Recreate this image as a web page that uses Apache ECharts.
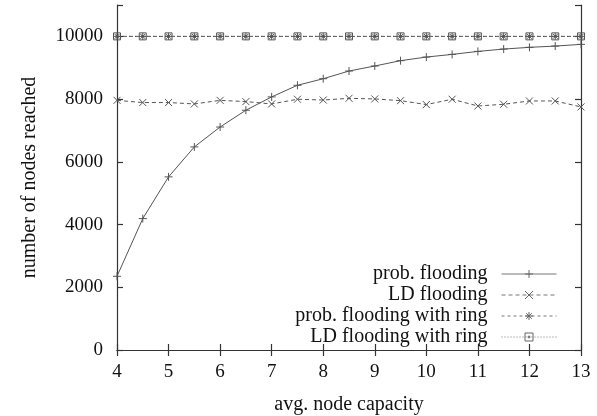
<!DOCTYPE html>
<html>
<head>
<meta charset="utf-8">
<script src="https://cdn.jsdelivr.net/npm/echarts@6/dist/echarts.min.js"></script>
<style>
  html, body { margin: 0; padding: 0; background: #fff; }
  #chart { width: 597px; height: 416px; }
</style>
</head>
<body>
<div id="chart"></div>
<script>
// average node capacity (x values)
const capacity = [4, 4.5, 5, 5.5, 6, 6.5, 7, 7.5, 8, 8.5, 9, 9.5, 10, 10.5, 11, 11.5, 12, 12.5, 13];

// number of nodes reached per strategy
const probFlooding = [2350, 4190, 5520, 6475, 7110, 7645, 8070, 8440, 8650, 8895, 9055, 9225, 9340, 9425, 9520, 9595, 9650, 9690, 9745];
const ldFlooding = [7960, 7890, 7890, 7845, 7960, 7920, 7845, 7995, 7970, 8025, 8005, 7950, 7825, 7995, 7780, 7835, 7940, 7940, 7750];
const probRing = [10000, 10000, 10000, 10000, 10000, 10000, 10000, 10000, 10000, 10000, 10000, 10000, 10000, 10000, 10000, 10000, 10000, 10000, 10000];
const ldRing = [10000, 10000, 10000, 10000, 10000, 10000, 10000, 10000, 10000, 10000, 10000, 10000, 10000, 10000, 10000, 10000, 10000, 10000, 10000];

const seriesNames = ['prob. flooding', 'LD flooding', 'prob. flooding with ring', 'LD flooding with ring'];
const yTicks = [0, 2000, 4000, 6000, 8000, 10000];

const FONT = 'Liberation Serif';
const INK = '#333';
const LINE = '#555';

// gnuplot-style point glyphs drawn as stroked paths
const SYM_PLUS = 'path://M0,5L10,5M5,0L5,10';
const SYM_CROSS = 'path://M0,0L10,10M10,0L0,10';
const SYM_STAR = 'path://M0,5L10,5M5,0L5,10M1.5,1.5L8.5,8.5M8.5,1.5L1.5,8.5';
const SYM_BOX = 'path://M0,0L10,0L10,10L0,10Z M4,4L6,4L6,6L4,6Z';

const pairs = ys => capacity.map((x, i) => [x, ys[i]]);

function makeSeries(name, ys, symbol, size, dash) {
  return {
    name: name,
    type: 'line',
    data: pairs(ys),
    symbol: symbol,
    symbolSize: size,
    showAllSymbol: true,
    lineStyle: { color: LINE, width: 1, type: dash },
    itemStyle: { color: 'rgba(0,0,0,0)', borderColor: LINE, borderWidth: 1 },
    emphasis: { disabled: true },
    animation: false
  };
}

const chart = echarts.init(document.getElementById('chart'), null, { renderer: 'canvas' });

const axisLine = { show: true, lineStyle: { color: INK, width: 1.2 } };
const axisTick = { show: true, inside: true, length: 6, lineStyle: { color: INK, width: 1.2 } };

chart.setOption({
  backgroundColor: '#fff',
  animation: false,
  grid: { left: 117, right: 16, top: 5, bottom: 66, containLabel: false, outerBoundsMode: 'none' },
  legend: {
    orient: 'vertical',
    right: 40,
    bottom: 69,
    padding: 0,
    align: 'right',
    itemWidth: 55,
    itemHeight: 10,
    itemGap: 1,
    data: seriesNames,
    lineStyle: { width: 1, color: '#777' },
    itemStyle: { borderWidth: 1, borderColor: '#666' },
    textStyle: { fontFamily: FONT, fontSize: 20, color: '#111', padding: [0, 9, 0, 0] },
    selectedMode: false
  },
  xAxis: [
    {
      type: 'value', min: 4, max: 13, interval: 1, position: 'bottom',
      name: 'avg. node capacity', nameLocation: 'middle', nameGap: 45,
      nameTextStyle: { fontFamily: FONT, fontSize: 20, color: '#111' },
      axisLine: axisLine, axisTick: axisTick, splitLine: { show: false },
      axisLabel: { fontFamily: FONT, fontSize: 19, color: '#111', margin: 13 }
    },
    {
      type: 'value', min: 4, max: 13, interval: 1, position: 'top',
      axisLine: axisLine, axisTick: axisTick, splitLine: { show: false },
      axisLabel: { show: false }
    }
  ],
  yAxis: [
    {
      type: 'value', min: 0, max: 11000, interval: 2000, position: 'left',
      name: 'number of nodes reached', nameLocation: 'middle', nameGap: 77,
      nameTextStyle: { fontFamily: FONT, fontSize: 20, color: '#111' },
      axisLine: axisLine, axisTick: axisTick, splitLine: { show: false },
      axisLabel: {
        fontFamily: FONT, fontSize: 19, color: '#111', margin: 14,
        formatter: v => (yTicks.indexOf(v) >= 0 ? String(v) : '')
      }
    },
    {
      type: 'value', min: 0, max: 11000, interval: 2000, position: 'right',
      axisLine: axisLine, axisTick: axisTick, splitLine: { show: false },
      axisLabel: { show: false }
    }
  ],
  series: [
    makeSeries(seriesNames[0], probFlooding, SYM_PLUS, 8, 'solid'),
    makeSeries(seriesNames[1], ldFlooding, SYM_CROSS, 7, [4, 3]),
    makeSeries(seriesNames[2], probRing, SYM_STAR, 7, [3, 3]),
    makeSeries(seriesNames[3], ldRing, SYM_BOX, 7, [1, 2])
  ]
});
</script>
</body>
</html>
